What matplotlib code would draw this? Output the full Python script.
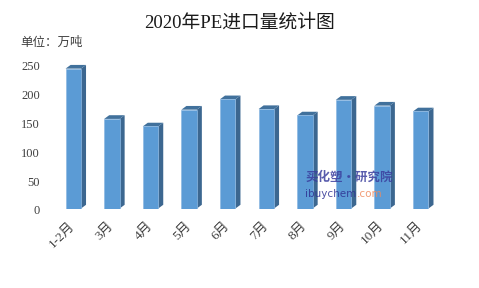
import matplotlib.pyplot as plt
import matplotlib.transforms as mtransforms
from matplotlib.patches import Polygon, Rectangle

plt.rcParams['font.family'] = ['Liberation Serif', 'Noto Sans CJK SC', 'DejaVu Sans']

months = ['1-2月', '3月', '4月', '5月', '6月', '7月', '8月', '9月', '10月', '11月']
imports = [242, 155, 142, 171, 189, 172, 161, 188, 178, 168]
yticks = [0, 50, 100, 150, 200, 250]

fig = plt.figure(figsize=(4.79, 2.88), dpi=100)
# 0 at y=208.5px, 0.578 px per unit
ax = fig.add_axes([0.1127, 1 - 208.5 / 288, 0.806, 260 * 0.578 / 288])

w = 0.4      # front face width
dx = 0.13    # depth offset in x
dy = 6.4     # depth offset in y (data units)
front = '#5B9BD5'
side = '#3C6790'
top = '#41719C'

for i, v in enumerate(imports):
    x0 = i - w / 2
    x1 = i + w / 2
    ax.add_patch(Polygon([(x1, 0), (x1 + dx, dy), (x1 + dx, v + dy), (x1, v)],
                         closed=True, facecolor=side, edgecolor='none'))
    ax.add_patch(Polygon([(x0, v), (x1, v), (x1 + dx, v + dy), (x0 + dx, v + dy)],
                         closed=True, facecolor=top, edgecolor='none'))
    ax.add_patch(Rectangle((x0, 0), w, v, facecolor=front, edgecolor='#8DB8E2', linewidth=0.5))

ax.set_xlim(-0.5, 9.5)
ax.set_ylim(0, 260)
for s in ax.spines.values():
    s.set_visible(False)
ax.tick_params(length=0)

ax.set_yticks(yticks)
ax.set_yticklabels([str(t) for t in yticks], fontsize=9, color='#404040')
ax.tick_params(axis='y', pad=10)
shift = mtransforms.ScaledTranslation(0, -1.5 / 100, fig.dpi_scale_trans)
for lab in ax.get_yticklabels():
    lab.set_transform(lab.get_transform() + shift)

ax.set_xticks(range(len(months)))
ax.set_xticklabels(months, fontsize=9.5, color='#404040', rotation=45,
                   ha='right', va='center', rotation_mode='anchor')
ax.tick_params(axis='x', pad=11)

fig.text(0.5, 0.922, '2020年PE进口量统计图', ha='center', va='center', fontsize=13.5, color='#1a1a1a')
fig.text(0.042, 0.853, '单位：万吨', ha='left', va='center', fontsize=9, color='#404040')

# watermark
fig.text(0.637, 0.385, '买化塑·研究院', ha='left', va='center', fontsize=9, color='#3B3F9E',
         fontweight='bold', style='italic', alpha=0.85, family=['Noto Sans CJK SC'])
t1 = fig.text(0.636, 0.327, 'ibuychem', ha='left', va='center', fontsize=7.5, color='#2E3192',
              alpha=0.85, family=['DejaVu Sans'])
t2 = fig.text(0, 0, '.com', ha='left', va='baseline', fontsize=7.5, color='#F08A5D', alpha=0.85,
              family=['DejaVu Sans'])
fig.canvas.draw()
bb = t1.get_window_extent().transformed(fig.transFigure.inverted())
t2.set_position((bb.x1 + 0.003, bb.y0 + 0.007))

fig.savefig('out.png', dpi=100)
